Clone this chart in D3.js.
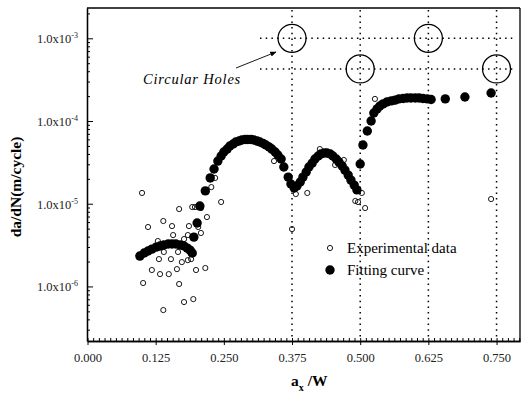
<!DOCTYPE html>
<html>
<head>
<meta charset="utf-8">
<script src="https://cdn.jsdelivr.net/npm/d3@7"></script>
<style>
  body { margin: 0; background: #fff; }
  .domain { stroke: #000; stroke-width: 1.3; }
  .tick line { stroke: #000; }
</style>
</head>
<body>
<script>
// tick values
const xTicks = [0, 0.125, 0.25, 0.375, 0.5, 0.625, 0.75];
const xTickLabels = ["0.000", "0.125", "0.250", "0.375", "0.500", "0.625", "0.750"];
const yTicks = [1e-6, 1e-5, 1e-4, 1e-3];
const yTickExp = ["-6", "-5", "-4", "-3"];

// fitting curve (filled dots)
const fitX = [0.096, 0.104, 0.111, 0.118, 0.126, 0.133, 0.140, 0.148, 0.155, 0.162, 0.170, 0.177, 0.183, 0.188, 0.192,
  0.195, 0.201, 0.206, 0.216, 0.225, 0.232, 0.239,
  0.245, 0.250, 0.256, 0.261, 0.267, 0.272, 0.278, 0.283, 0.289, 0.294, 0.300, 0.305, 0.311, 0.316, 0.322, 0.327, 0.333, 0.338, 0.344, 0.349, 0.355,
  0.360, 0.368, 0.373, 0.379, 0.384,
  0.390, 0.395, 0.401, 0.406, 0.412, 0.417, 0.423, 0.428, 0.434, 0.439, 0.445, 0.450, 0.456, 0.461, 0.467, 0.472, 0.478, 0.483, 0.489, 0.494,
  0.500, 0.505, 0.513, 0.520, 0.525, 0.531, 0.536, 0.542, 0.549, 0.557, 0.564, 0.571, 0.579, 0.586, 0.593, 0.601, 0.608, 0.615, 0.623, 0.630,
  0.656, 0.692, 0.740];
const fitY = [2.33e-6, 2.54e-6, 2.68e-6, 2.83e-6, 2.99e-6, 3.08e-6, 3.17e-6, 3.26e-6, 3.26e-6, 3.26e-6, 3.17e-6, 3.08e-6, 2.91e-6, 2.75e-6, 2.54e-6,
  3.95e-6, 5.85e-6, 9.37e-6, 1.43e-5, 2.05e-5, 2.63e-5, 3.28e-5,
  3.78e-5, 4.22e-5, 4.58e-5, 4.99e-5, 5.27e-5, 5.57e-5, 5.73e-5, 5.89e-5, 5.97e-5, 5.97e-5, 5.97e-5, 5.89e-5, 5.73e-5, 5.57e-5, 5.35e-5, 5.13e-5, 4.85e-5, 4.58e-5, 4.22e-5, 3.88e-5, 3.47e-5,
  2.78e-5, 2.10e-5, 1.73e-5, 1.55e-5, 1.64e-5,
  1.83e-5, 2.10e-5, 2.42e-5, 2.78e-5, 3.10e-5, 3.47e-5, 3.78e-5, 3.99e-5, 4.10e-5, 4.10e-5, 3.99e-5, 3.78e-5, 3.47e-5, 3.19e-5, 2.86e-5, 2.55e-5, 2.22e-5, 1.93e-5, 1.68e-5, 1.47e-5,
  3.02e-5, 5.13e-5, 7.57e-5, 1.00e-4, 1.25e-4, 1.40e-4, 1.52e-4, 1.61e-4, 1.70e-4, 1.75e-4, 1.79e-4, 1.85e-4, 1.87e-4, 1.90e-4, 1.90e-4, 1.90e-4, 1.90e-4, 1.87e-4, 1.85e-4, 1.82e-4,
  1.85e-4, 1.95e-4, 2.18e-4];

// experimental data (open circles)
const expX = [0.100, 0.168, 0.192, 0.197, 0.208, 0.219, 0.111, 0.139, 0.155, 0.186, 0.203, 0.208, 0.157, 0.184, 0.129, 0.177,
  0.131, 0.153, 0.140, 0.166, 0.173, 0.184, 0.190, 0.118, 0.133, 0.149, 0.164, 0.199, 0.216, 0.102, 0.168, 0.177, 0.194, 0.139,
  0.227, 0.234, 0.245, 0.342, 0.375, 0.382, 0.403, 0.393, 0.426, 0.454, 0.470, 0.491, 0.496, 0.503, 0.509, 0.527, 0.740];
const expY = [1.35e-5, 8.63e-6, 9.12e-6, 9.12e-6, 8.87e-6, 6.90e-6, 5.23e-6, 6.18e-6, 5.37e-6, 5.37e-6, 5.23e-6, 4.43e-6, 4.18e-6, 4.18e-6, 3.54e-6, 3.74e-6,
  2.14e-6, 2.14e-6, 2.61e-6, 2.61e-6, 1.97e-6, 2.08e-6, 2.14e-6, 1.58e-6, 1.41e-6, 1.41e-6, 1.62e-6, 1.58e-6, 1.67e-6, 1.10e-6, 1.07e-6, 6.48e-7, 7.03e-7, 5.18e-7,
  1.59e-5, 2.05e-5, 1.05e-5, 3.28e-5, 4.94e-6, 1.31e-5, 1.35e-5, 1.93e-5, 4.58e-5, 2.94e-5, 3.38e-5, 1.08e-5, 1.05e-5, 1.35e-5, 8.87e-6, 1.85e-4, 1.14e-5];

// circular holes sketch
const holeX = [0.375, 0.5, 0.625, 0.75];
const holeRowY = [1e-3, 4.26e-4];
const holeRow = [0, 1, 0, 1];

const FONT = "'Liberation Serif'";
const W = 523, H = 393;
const svg = d3.select("body").append("svg").attr("width", W).attr("height", H);
svg.append("rect").attr("width", W).attr("height", H).attr("fill", "#fff");

const x = d3.scaleLinear().domain([0, 0.793]).range([87.5, 520]);
const y = d3.scaleLog().domain([2.19e-7, 2.325e-3]).range([341, 8]);

// frame top/right
svg.append("line").attr("x1", 87).attr("x2", 520).attr("y1", 8).attr("y2", 8).attr("stroke", "#000").attr("stroke-width", 1.3);
svg.append("line").attr("x1", 520).attr("x2", 520).attr("y1", 8).attr("y2", 341).attr("stroke", "#000").attr("stroke-width", 1.3);

// dotted guide lines
var dotted = svg.append("g").attr("stroke", "#000").attr("stroke-width", 1.5).attr("stroke-dasharray", "1.5,4.2");
holeX.forEach(function(v){
    dotted.append("line").attr("x1", x(v)).attr("x2", x(v)).attr("y1", 10).attr("y2", 340);
});
holeRowY.forEach(function(v){
    dotted.append("line").attr("x1", 260).attr("x2", 516).attr("y1", y(v)).attr("y2", y(v));
});
svg.append("g").selectAll("circle").data(holeX).join("circle")
    .attr("cx", function(d){ return x(d); })
    .attr("cy", function(d, i){ return y(holeRowY[holeRow[i]]); })
    .attr("r", 14)
    .attr("fill", "none").attr("stroke", "#000").attr("stroke-width", 1.3);

// annotation
svg.append("defs").append("marker").attr("id", "arr").attr("viewBox", "0 0 10 10")
    .attr("refX", 9).attr("refY", 5).attr("markerWidth", 7).attr("markerHeight", 7).attr("orient", "auto")
    .append("path").attr("d", "M0,1L10,5L0,9z").attr("fill", "#000");
svg.append("line").attr("x1", 236).attr("y1", 68).attr("x2", 276).attr("y2", 52)
    .attr("stroke", "#000").attr("stroke-width", 0.9).attr("marker-end", "url(#arr)");
svg.append("text").attr("x", 143).attr("y", 84).attr("font-style", "italic").attr("font-size", 14.5)
    .attr("letter-spacing", 0.8).style("font-family", FONT).text("Circular Holes");

// axes
var minorX = d3.range(0, 0.793, 0.125 / 12);
svg.append("g").attr("transform", "translate(0,341)")
    .call(d3.axisBottom(x).tickValues(minorX).tickSizeInner(-3).tickSizeOuter(0).tickFormat(""));
var gx = svg.append("g").attr("transform", "translate(0,341)")
    .call(d3.axisBottom(x).tickValues(xTicks).tickSizeInner(4).tickSizeOuter(0)
        .tickFormat(function(d, i){ return xTickLabels[i]; }));
gx.selectAll(".tick text").attr("font-size", 12.5).style("font-family", FONT).attr("fill", "#222").attr("dy", "1.1em");

var minorY = [];
[-7, -6, -5, -4, -3].forEach(function(e){
    for (var k = 2; k <= 9; k++) {
        var v = k * Math.pow(10, e);
        if (v > 2.19e-7 && v < 2.325e-3) minorY.push(v);
    }
});
svg.append("g").attr("transform", "translate(87,0)")
    .call(d3.axisLeft(y).tickValues(minorY).tickSizeInner(-3).tickSizeOuter(0).tickFormat(""));
var gy = svg.append("g").attr("transform", "translate(87,0)")
    .call(d3.axisLeft(y).tickValues(yTicks).tickSizeInner(-6).tickSizeOuter(0).tickFormat(""));
gy.selectAll(".tick").append("text")
    .attr("x", -9).attr("dy", "0.35em").attr("text-anchor", "end")
    .attr("font-size", 12.5).style("font-family", FONT).attr("fill", "#222")
    .each(function(d, i){
        var t = d3.select(this);
        t.append("tspan").text("1.0x10");
        t.append("tspan").attr("font-size", 8).attr("dy", -5).text(yTickExp[i]);
    });

// axis titles
svg.append("text").attr("transform", "translate(21,187) rotate(-90)").attr("text-anchor", "middle")
    .attr("font-weight", "bold").attr("font-size", 15.5).style("font-family", FONT).text("da/dN(m/cycle)");
var xt = svg.append("text").attr("x", 291).attr("y", 386).attr("font-weight", "bold").attr("font-size", 15.5).style("font-family", FONT);
xt.append("tspan").text("a");
xt.append("tspan").attr("font-size", 10).attr("dy", 5).text("x");
xt.append("tspan").attr("dy", -5).text(" /W");

// data
svg.append("g").selectAll("circle").data(fitX).join("circle")
    .attr("cx", function(d){ return x(d); })
    .attr("cy", function(d, i){ return y(fitY[i]); })
    .attr("r", 4.7).attr("fill", "#000");
svg.append("g").selectAll("circle").data(expX).join("circle")
    .attr("cx", function(d){ return x(d); })
    .attr("cy", function(d, i){ return y(expY[i]); })
    .attr("r", 2.6).attr("fill", "none").attr("stroke", "#000").attr("stroke-width", 0.9);

// legend
var lg = svg.append("g");
lg.append("circle").attr("cx", 330).attr("cy", 248).attr("r", 2.6).attr("fill", "none").attr("stroke", "#000").attr("stroke-width", 0.9);
lg.append("circle").attr("cx", 330).attr("cy", 270).attr("r", 4.7).attr("fill", "#000");
lg.append("text").attr("x", 347).attr("y", 253).attr("font-size", 15).style("font-family", FONT).text("Experimental data");
lg.append("text").attr("x", 347).attr("y", 275).attr("font-size", 15).style("font-family", FONT).text("Fitting curve");
</script>
</body>
</html>
